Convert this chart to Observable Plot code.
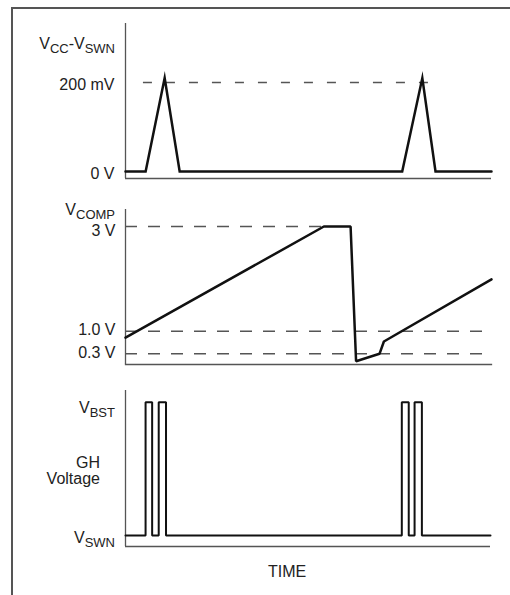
<!DOCTYPE html>
<html><head><meta charset="utf-8">
<script src="https://cdn.jsdelivr.net/npm/d3@7"></script>
<script src="https://cdn.jsdelivr.net/npm/@observablehq/plot@0.6"></script>
<style>
body{margin:0;background:#fff;}
#wrap{position:relative;width:510px;height:595px;overflow:hidden;font-family:"Liberation Sans",Arial,sans-serif;}
#frame{position:absolute;left:11px;top:7px;width:700px;height:700px;border-left:2px solid #555;border-top:2px solid #555;}
.panel{position:absolute;left:0;}
</style></head><body>
<div id="wrap"><div id="frame"></div></div>
<script>
// ---- Panel 1: VCC - VSWN (volts) ----
const time1 = [0, 5.5, 10.7, 14.8, 75.6, 81.1, 84.7, 100];
const vccSwn = [0, 0, 0.21, 0, 0, 0.21, 0, 0];
const ticks1 = [0.2, 0];
const tickLabels1 = ["200 mV", "0 V"];
const ref1Level = [0.2];
const ref1Start = [4.9];
const ref1End = [84.7];

// ---- Panel 2: VCOMP (volts) ----
const time2 = [0, 54.2, 61.5, 63.0, 69.4, 70.6, 100];
const vcomp = [0.8, 3, 3, 0.07, 0.3, 0.68, 1.99];
const ticks2 = [3, 1.0, 0.3];
const tickLabels2 = ["3 V", "1.0 V", "0.3 V"];
const ref2End = [54.2, 100, 100];

// ---- Panel 3: GH voltage (0 = VSWN, 1 = VBST) ----
const time3 = [0, 5.5, 7.3, 9.1, 11.1, 75.7, 77.6, 79.2, 81.2, 100];
const gh = [0, 1, 0, 1, 0, 1, 0, 1, 0, 0];
const ticks3 = [1, 0];
const tickNames3 = [["V", "BST"], ["V", "SWN"]];

const FONT = '"Liberation Sans", Arial, sans-serif';
const INK = "#222";
const AX = "#555";
const wrap = document.getElementById("wrap");

function rich(svg, x, y, parts, anchor = "end") {
  const t = svg.append("text").attr("x", x).attr("y", y)
    .attr("text-anchor", anchor).attr("fill", INK)
    .style("font-family", FONT).style("font-size", "16px");
  let shifted = false;
  for (const [s, sub] of parts) {
    const ts = t.append("tspan").text(s);
    if (sub && !shifted) { ts.attr("dy", 4).style("font-size", "13px"); shifted = true; }
    else if (sub) { ts.style("font-size", "13px"); }
    else if (!sub && shifted) { ts.attr("dy", -4); shifted = false; }
  }
  return t;
}
function place(el, top) {
  el.classList.add("panel");
  el.style.top = top + "px";
  el.style.overflow = "visible";
  wrap.appendChild(el);
}

// Panel 1
const rows1 = time1.map((t, i) => ({t, v: vccSwn[i]}));
const lo1 = -0.0157;
const p1 = Plot.plot({
  width: 510, height: 190,
  marginLeft: 125, marginRight: 19, marginTop: 23, marginBottom: 12,
  style: {fontFamily: FONT, fontSize: "16px", color: INK, background: "transparent"},
  x: {domain: [0, 100], axis: null},
  y: {domain: [lo1, 0.3326], axis: null},
  marks: [
    Plot.ruleY(ref1Level, {y: d => d, x1: (d, i) => ref1Start[i], x2: (d, i) => ref1End[i], stroke: AX, strokeWidth: 1.5, strokeDasharray: "9,14"}),
    Plot.ruleX([0], {stroke: AX, strokeWidth: 1.3}),
    Plot.ruleY([lo1], {stroke: AX, strokeWidth: 1.3}),
    Plot.line(rows1, {x: "t", y: "v", stroke: "#111", strokeWidth: 2.5, strokeLinejoin: "miter", strokeMiterlimit: 8}),
    Plot.text(ticks1, {x: 0, y: d => d, text: (d, i) => tickLabels1[i], textAnchor: "end", dx: -11, dy: 2, fontSize: 16, fill: INK})
  ]
});
place(p1, 0);
rich(d3.select(p1), 115, 49, [["V", false], ["CC", true], ["-", false], ["V", false], ["SWN", true]]);

// Panel 2: the schematic's voltage axis is not proportional; this piecewise
// transform maps volts to the drawing's height above the baseline.
const schem = d3.scaleLinear().domain([0.3, 1, 3]).range([10.7, 33.3, 138]);
const rows2 = time2.map((t, i) => ({t, v: vcomp[i]}));
const p2 = Plot.plot({
  width: 510, height: 190,
  marginLeft: 125, marginRight: 19, marginTop: 19, marginBottom: 16,
  style: {fontFamily: FONT, fontSize: "16px", color: INK, background: "transparent"},
  x: {domain: [0, 100], axis: null},
  y: {transform: v => schem(v), domain: [0, 155], axis: null},
  marks: [
    Plot.ruleY(ticks2, {y: d => d, x1: 0, x2: (d, i) => ref2End[i], stroke: AX, strokeWidth: 1.5, strokeDasharray: "12,11"}),
    Plot.ruleX([0], {stroke: AX, strokeWidth: 1.3}),
    Plot.frame({anchor: "bottom", stroke: AX, strokeWidth: 1.3}),
    Plot.line(rows2, {x: "t", y: "v", stroke: "#111", strokeWidth: 2.5, strokeLinejoin: "miter"}),
    Plot.text(ticks2.slice(0, 1), {x: 0, y: d => d, text: (d, i) => tickLabels2[i], textAnchor: "end", dx: -10, dy: 4, fontSize: 16, fill: INK}),
    Plot.text(ticks2.slice(1), {x: 0, y: d => d, text: (d, i) => tickLabels2[i + 1], textAnchor: "end", dx: -10, dy: -1, fontSize: 16, fill: INK})
  ]
});
place(p2, 190);
rich(d3.select(p2), 115, 25, [["V", false], ["COMP", true]]);

// Panel 3
const rows3 = time3.map((t, i) => ({t, v: gh[i]}));
const lo3 = -0.0825;
const p3 = Plot.plot({
  width: 510, height: 215,
  marginLeft: 125, marginRight: 20, marginTop: 10, marginBottom: 49,
  style: {fontFamily: FONT, fontSize: "16px", color: INK, background: "transparent"},
  x: {domain: [0, 100], axis: null},
  y: {domain: [lo3, 1.088], axis: null},
  marks: [
    Plot.ruleX([0], {stroke: AX, strokeWidth: 1.3}),
    Plot.ruleY([lo3], {stroke: AX, strokeWidth: 1.3}),
    Plot.line(rows3, {x: "t", y: "v", curve: "step-after", stroke: "#111", strokeWidth: 2, strokeLinejoin: "miter"})
  ]
});
place(p3, 380);
const s3 = d3.select(p3);
const y3 = p3.scale("y");
rich(s3, 115, y3.apply(ticks3[0]) + 11, tickNames3[0].map((s, i) => [s, i > 0]));
rich(s3, 115, y3.apply(ticks3[1]) + 8, tickNames3[1].map((s, i) => [s, i > 0]));
rich(s3, 100, 88, [["GH", false]]);
rich(s3, 100, 104, [["Voltage", false]]);
rich(s3, 268, 197, [["TIME", false]], "start");
</script>
</body></html>
